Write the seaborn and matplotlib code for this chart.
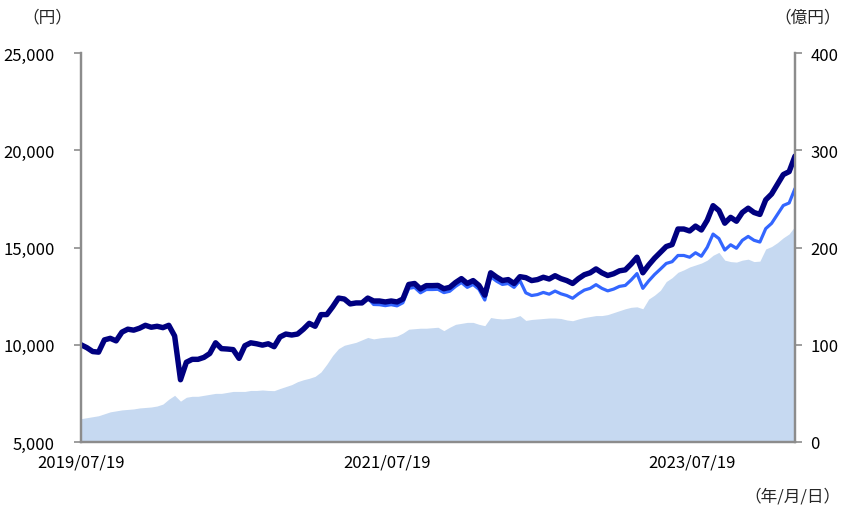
import matplotlib
matplotlib.use("Agg")
import matplotlib.pyplot as plt
import matplotlib.dates as mdates
import seaborn as sns
import pandas as pd

# ---- data ----
start_date = "2019-07-19"
n_points = 123  # bi-weekly observations

nav_reinvested = [
    10000, 9850, 9650, 9620, 10250, 10330, 10200, 10650, 10800, 10750,
    10850, 11000, 10900, 10950, 10880, 11000, 10450, 8200, 9100, 9250,
    9250, 9350, 9550, 10100, 9800, 9780, 9750, 9300, 9950, 10100,
    10050, 9980, 10050, 9900, 10400, 10550, 10500, 10550, 10800, 11100,
    10950, 11550, 11550, 11950, 12400, 12350, 12100, 12150, 12150, 12400,
    12250, 12250, 12200, 12250, 12200, 12350, 13100, 13150, 12870, 13040,
    13040, 13050, 12880, 12950, 13200, 13400, 13150, 13300, 13050, 12550,
    13700, 13480, 13300, 13350, 13150, 13500, 13450, 13300, 13350, 13470,
    13380, 13550, 13400, 13300, 13150, 13400, 13600, 13700, 13900, 13700,
    13560, 13650, 13800, 13850, 14150, 14500, 13700, 14100, 14450, 14750,
    15050, 15150, 15950, 15950, 15850, 16100, 15900, 16400, 17150, 16900,
    16250, 16550, 16350, 16800, 17020, 16800, 16700, 17450, 17750, 18250,
    18750, 18900, 19700,
]

nav = [
    10000, 9850, 9650, 9620, 10250, 10330, 10200, 10650, 10800, 10750,
    10850, 11000, 10900, 10950, 10880, 11000, 10450, 8200, 9100, 9250,
    9250, 9350, 9550, 10100, 9800, 9780, 9750, 9300, 9950, 10100,
    10050, 9980, 10050, 9900, 10400, 10550, 10500, 10550, 10800, 11100,
    10950, 11550, 11550, 11950, 12400, 12350, 12100, 12150, 12150, 12400,
    12070, 12060, 12010, 12060, 12000, 12160, 12900, 12950, 12670, 12840,
    12840, 12850, 12680, 12750, 13000, 13200, 12950, 13100, 12850, 12300,
    13500, 13270, 13100, 13150, 12950, 13300, 12670, 12530, 12580, 12690,
    12600, 12760, 12620, 12530, 12390, 12620, 12810, 12900, 13090, 12900,
    12770, 12860, 13000, 13050, 13330, 13660, 12900, 13280, 13610, 13890,
    14180, 14270, 14590, 14590, 14500, 14730, 14550, 15010, 15690, 15460,
    14870, 15140, 14960, 15370, 15570, 15370, 15280, 15970, 16240, 16700,
    17160, 17290, 18030,
]

net_assets = [
    24, 25, 26, 27, 29, 31, 32, 33, 33.5, 34,
    35, 35.5, 36, 37, 39, 44, 48, 42, 46, 47,
    47, 48, 49, 50, 50, 51, 52, 52, 52, 53,
    53, 53.5, 53, 52.8, 55, 57, 59, 62, 64, 65.5,
    67.5, 72, 80, 89, 96, 99.5, 101, 102.5, 105, 107.5,
    106, 107, 107.7, 108, 109, 112, 116, 116.5, 117, 117,
    117.5, 118, 114.5, 118, 121, 122, 123, 123, 121, 119.6,
    128, 127, 126.5, 127, 128, 130, 125, 126, 126.5, 127,
    127.5, 127.5, 127, 125.5, 124.7, 126.5, 128, 129, 130, 130,
    131, 133, 135, 137, 138.5, 139, 137, 147, 151, 156,
    165, 169, 174.5, 177, 180, 182, 184, 187, 192, 195,
    187, 185.5, 185, 187, 188, 185.5, 186, 198.5, 201, 205,
    210, 214, 222,
]

x_tick_dates = ["2019-07-19", "2021-07-19", "2023-07-19"]
left_ticks = [5000, 10000, 15000, 20000, 25000]
right_ticks = [0, 100, 200, 300, 400]

dates = pd.date_range(start_date, periods=n_points, freq="14D")
df = pd.DataFrame({"date": dates, "nav_re": nav_reinvested, "nav": nav,
                   "assets": net_assets})

# ---- style ----
sns.set_style("white")
plt.rcParams["font.family"] = ["Noto Sans CJK JP", "DejaVu Sans"]

W, H = 843, 510
fig = plt.figure(figsize=(W / 100, H / 100), dpi=100)
L, R, B, T = 81, 795, 443, 54
ax = fig.add_axes([L / W, 1 - B / H, (R - L) / W, (B - T) / H])
ax_line = ax.twinx()

area_color = "#C6D9F1"
ax.fill_between(df["date"], 0, df["assets"], color=area_color, lw=0)
ax.set_ylim(0, 400)
ax.set_yticks(right_ticks)
ax.yaxis.tick_right()
ax.set_xlim(dates[0], dates[-1])

sns.lineplot(data=df, x="date", y="nav", ax=ax_line, color="#3366FF",
             lw=2.3, estimator=None)
sns.lineplot(data=df, x="date", y="nav_re", ax=ax_line, color="#000080",
             lw=3.9, estimator=None)
ax_line.set_ylim(5000, 25000)
ax_line.set_yticks(left_ticks)
ax_line.yaxis.tick_left()
ax_line.set_xlim(dates[0], dates[-1])
ax_line.yaxis.set_major_formatter(plt.FuncFormatter(lambda v, p: f"{int(v):,}"))

ax.set_xticks(pd.to_datetime(x_tick_dates))
ax.xaxis.set_major_formatter(mdates.DateFormatter("%Y/%m/%d"))

for a in (ax, ax_line):
    a.set_xlabel("")
    a.set_ylabel("")
    a.spines["top"].set_visible(False)
    for s in ("left", "right", "bottom"):
        a.spines[s].set_color("#8C8C8C")
        a.spines[s].set_linewidth(1.6)

FS = 12
ax.tick_params(axis="y", direction="out", length=5, width=1.2,
               color="#8C8C8C", labelsize=FS, labelcolor="black", pad=6,
               right=True, left=False, labelright=True, labelleft=False)
ax_line.tick_params(axis="y", direction="out", length=5, width=1.2,
                    color="#8C8C8C", labelsize=FS, labelcolor="black", pad=14,
                    left=True, right=False, labelleft=True, labelright=False)
ax.tick_params(axis="x", direction="out", length=4, width=1.2,
               color="#8C8C8C", labelsize=FS, labelcolor="black", pad=4)
ax_line.tick_params(axis="x", bottom=False, labelbottom=False)

fig.text(47 / W, 1 - 18 / H, "（円）", ha="center", va="center", fontsize=FS)
fig.text(841 / W, 1 - 18 / H, "（億円）", ha="right", va="center", fontsize=FS)
fig.text(841 / W, 1 - 497 / H, "（年/月/日）", ha="right", va="center", fontsize=FS)

fig.savefig("out.png", dpi=100, facecolor="white")
